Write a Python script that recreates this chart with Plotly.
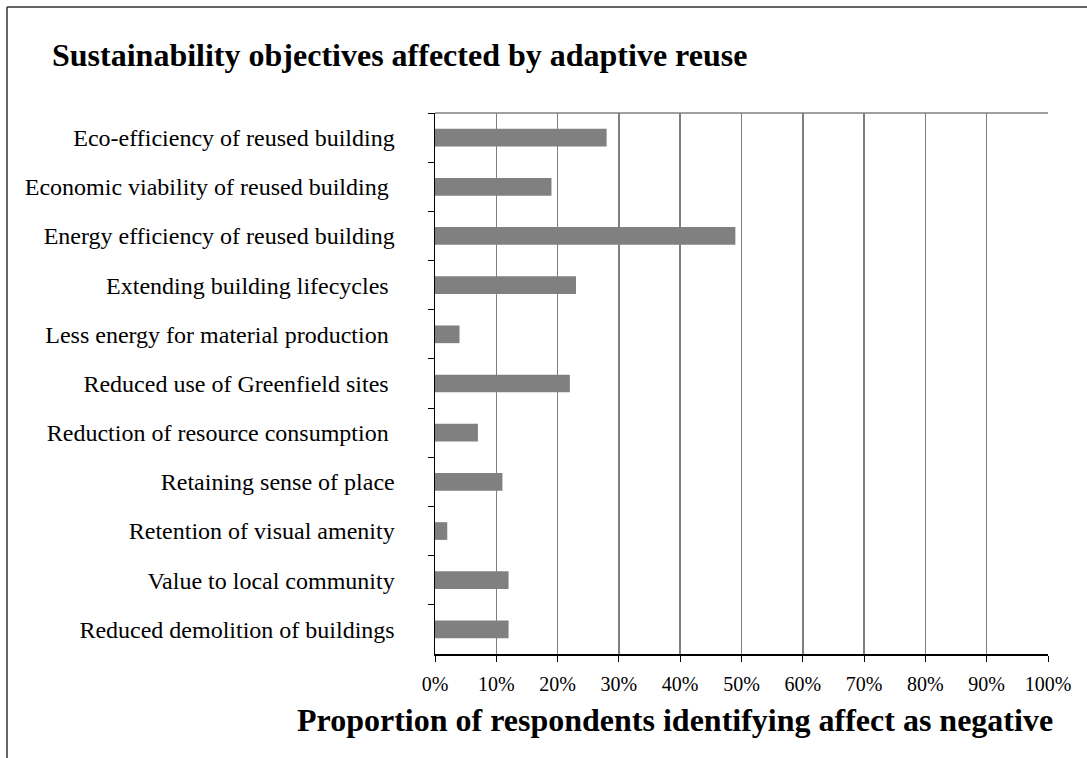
import plotly.graph_objects as go

categories = [
    "Eco-efficiency of reused building",
    "Economic viability of reused building ",
    "Energy efficiency of reused building",
    "Extending building lifecycles ",
    "Less energy for material production ",
    "Reduced use of Greenfield sites ",
    "Reduction of resource consumption ",
    "Retaining sense of place",
    "Retention of visual amenity",
    "Value to local community",
    "Reduced demolition of buildings",
]
values = [0.28, 0.19, 0.49, 0.23, 0.04, 0.22, 0.07, 0.11, 0.02, 0.12, 0.12]
x_ticks = [i / 10 for i in range(11)]
x_tick_labels = [f"{i * 10}%" for i in range(11)]

title_text = "Sustainability objectives affected by adaptive reuse"
x_title = "Proportion of respondents identifying affect as negative"

FONT = "Liberation Serif, Times New Roman, serif"

fig = go.Figure(
    go.Bar(
        x=values,
        y=categories,
        orientation="h",
        marker=dict(color="#808080", line=dict(width=0)),
        width=0.36,
        hoverinfo="skip",
    )
)

W, H = 1087, 758
L, R, T, B = 435, 39, 113, 104
pw = W - L - R
ph = H - T - B

fig.update_layout(
    width=W,
    height=H,
    margin=dict(l=L, r=R, t=T, b=B, autoexpand=False),
    paper_bgcolor="white",
    plot_bgcolor="white",
    showlegend=False,
    font=dict(family=FONT, color="black", size=24),
    title=dict(
        text="<b>" + title_text + "</b>",
        x=52 / W,
        xanchor="left",
        y=1 - 55 / H,
        yanchor="middle",
        font=dict(family=FONT, size=32, color="black"),
    ),
    xaxis=dict(
        range=[0, 1],
        tickvals=x_ticks,
        ticktext=x_tick_labels,
        showgrid=True,
        gridcolor="#7f7f7f",
        gridwidth=1.5,
        showline=True,
        linecolor="black",
        linewidth=1.5,
        ticks="outside",
        ticklen=6,
        tickcolor="black",
        ticklabelstandoff=5,
        tickfont=dict(family=FONT, size=20, color="black"),
        zeroline=False,
        automargin=False,
        fixedrange=True,
    ),
    yaxis=dict(
        autorange="reversed",
        showline=True,
        linecolor="black",
        linewidth=1.5,
        ticks="outside",
        tickson="boundaries",
        ticklen=6,
        tickcolor="black",
        ticklabelstandoff=34,
        tickfont=dict(family=FONT, size=24, color="black"),
        showgrid=False,
        automargin=False,
        fixedrange=True,
    ),
)

# x-axis title (placed like the original, right-aligned near the plot's right edge)
fig.add_annotation(
    text="<b>" + x_title + "</b>",
    xref="paper", yref="paper",
    x=(1055 - L) / pw, xanchor="right",
    y=(H - B - 720) / ph, yanchor="middle",
    showarrow=False,
    font=dict(family=FONT, size=32, color="black"),
)

# plot-area top border (gray)
fig.add_shape(type="line", xref="paper", yref="paper", x0=0, x1=1, y0=1, y1=1,
              line=dict(color="#808080", width=1.5))

# outer chart frame (left and top edges visible)
fx = (7 - L) / pw
fy = (H - B - 7) / ph
fig.add_shape(type="line", xref="paper", yref="paper", x0=fx, x1=fx, y0=-1, y1=fy,
              line=dict(color="#333333", width=1.5))
fig.add_shape(type="line", xref="paper", yref="paper", x0=fx, x1=2, y0=fy, y1=fy,
              line=dict(color="#333333", width=1.5))

fig.write_html(
    "out.html",
    config={"displayModeBar": False, "staticPlot": True},
    post_script="document.body.style.margin='0';document.body.style.overflow='hidden';",
)
